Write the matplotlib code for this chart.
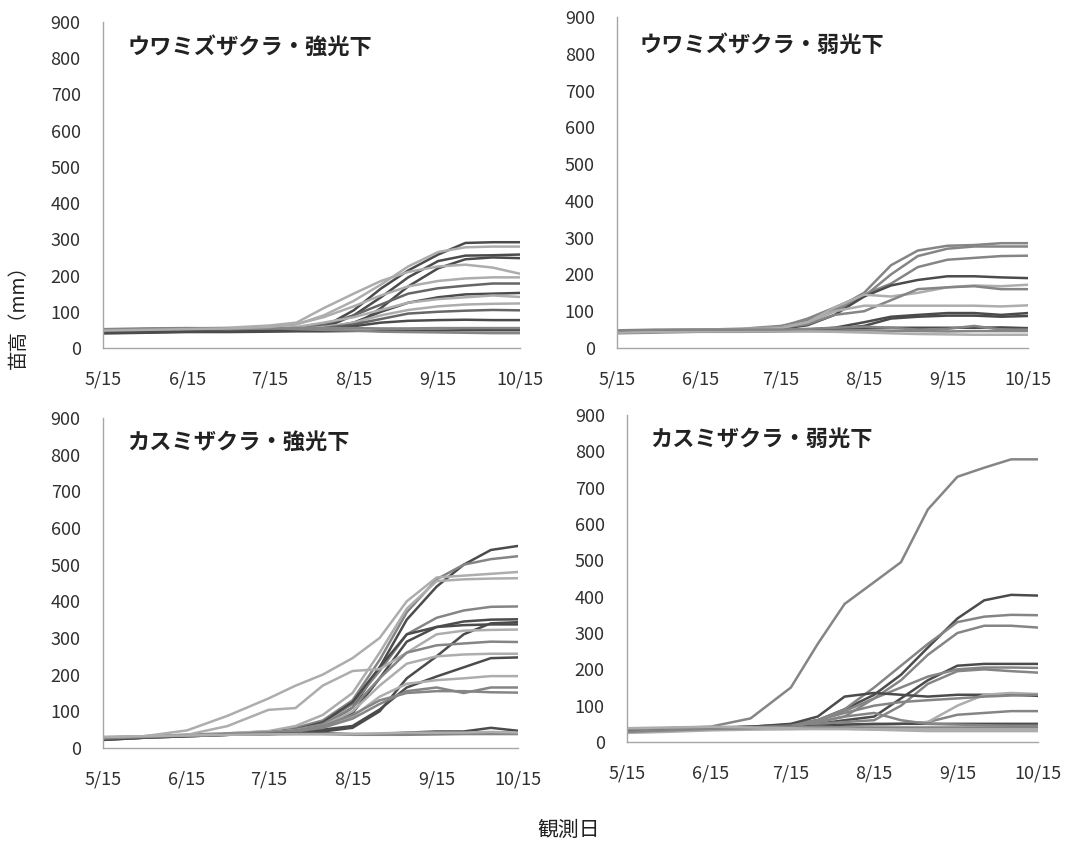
import numpy as np
import pandas as pd
import matplotlib
matplotlib.use('Agg')
import matplotlib.pyplot as plt

plt.rcParams['font.family'] = ['Noto Sans CJK JP', 'DejaVu Sans']

# observation dates (sampled from the chart)
obs_dates = ['5/15', '5/30', '6/15', '6/30', '7/15', '7/25', '8/4',
             '8/15', '8/25', '9/4', '9/15', '9/25', '10/5', '10/15']
tick_labels = ['5/15', '6/15', '7/15', '8/15', '9/15', '10/15']

titles = ['ウワミズザクラ・強光下', 'ウワミズザクラ・弱光下',
          'カスミザクラ・強光下', 'カスミザクラ・弱光下']

# seedling height (mm), one row per seedling
uwamizu_strong = [
    [45, 45, 48, 48, 50, 52, 58, 104, 164, 214, 258, 290, 292, 292],
    [42, 44, 46, 48, 50, 52, 55, 90, 140, 195, 240, 255, 256, 258],
    [44, 44, 46, 47, 48, 50, 52, 60, 110, 170, 220, 245, 250, 248],
    [50, 52, 54, 56, 62, 70, 110, 150, 185, 210, 225, 230, 222, 205],
    [48, 50, 52, 54, 58, 65, 90, 130, 175, 225, 265, 278, 280, 280],
    [45, 46, 48, 48, 50, 55, 65, 90, 120, 150, 165, 172, 178, 178],
    [42, 44, 45, 46, 48, 50, 55, 70, 100, 125, 140, 148, 150, 152],
    [46, 48, 50, 50, 52, 58, 70, 85, 105, 125, 135, 140, 145, 141],
    [44, 46, 48, 48, 50, 52, 58, 70, 90, 105, 115, 120, 122, 123],
    [42, 44, 45, 46, 48, 50, 55, 65, 80, 95, 100, 103, 105, 104],
    [44, 45, 46, 47, 48, 50, 52, 60, 70, 75, 77, 78, 77, 77],
    [40, 42, 44, 44, 45, 46, 46, 47, 48, 48, 48, 49, 49, 49],
    [52, 54, 55, 54, 55, 52, 50, 48, 45, 44, 43, 42, 41, 41],
    [50, 52, 53, 52, 54, 55, 55, 55, 54, 54, 55, 55, 55, 55],
    [48, 50, 52, 54, 58, 66, 85, 115, 145, 170, 185, 192, 195, 195],
]
uwamizu_weak = [
    [45, 48, 50, 52, 60, 75, 105, 150, 225, 265, 278, 280, 285, 285],
    [44, 46, 48, 50, 55, 70, 100, 140, 200, 250, 270, 276, 276, 276],
    [44, 46, 48, 50, 58, 80, 110, 145, 175, 220, 240, 245, 250, 251],
    [42, 44, 46, 48, 52, 62, 90, 140, 170, 185, 195, 195, 192, 190],
    [45, 48, 50, 52, 56, 70, 110, 145, 140, 150, 165, 170, 168, 172],
    [44, 46, 48, 50, 55, 65, 90, 100, 130, 160, 165, 168, 160, 160],
    [45, 46, 48, 50, 54, 70, 100, 115, 115, 115, 115, 115, 113, 116],
    [44, 45, 46, 47, 48, 50, 55, 70, 85, 90, 95, 95, 90, 95],
    [42, 44, 45, 46, 47, 48, 52, 60, 80, 85, 88, 88, 85, 87],
    [45, 46, 47, 48, 48, 50, 52, 54, 55, 55, 55, 55, 56, 54],
    [40, 42, 44, 44, 45, 46, 47, 48, 47, 46, 45, 46, 46, 46],
    [42, 44, 45, 45, 46, 45, 44, 42, 40, 38, 37, 36, 36, 36],
    [48, 50, 50, 50, 50, 52, 55, 58, 55, 50, 52, 60, 50, 50],
]
kasumi_strong = [
    [25, 30, 35, 38, 40, 45, 60, 110, 220, 350, 440, 500, 540, 551],
    [28, 32, 36, 40, 45, 55, 75, 130, 240, 370, 460, 500, 515, 523],
    [30, 32, 48, 88, 135, 170, 200, 245, 300, 400, 465, 470, 475, 480],
    [28, 32, 36, 40, 46, 60, 90, 150, 260, 380, 455, 460, 462, 463],
    [25, 30, 35, 38, 42, 50, 70, 120, 210, 310, 355, 375, 385, 386],
    [22, 28, 34, 38, 40, 45, 55, 95, 190, 290, 330, 345, 350, 351],
    [24, 30, 34, 36, 38, 40, 45, 55, 100, 190, 250, 310, 340, 343],
    [26, 30, 34, 38, 42, 50, 70, 125, 220, 310, 330, 335, 337, 337],
    [28, 32, 36, 60, 104, 109, 170, 210, 215, 260, 310, 320, 322, 323],
    [25, 30, 34, 38, 42, 50, 65, 110, 190, 260, 280, 285, 290, 289],
    [26, 30, 34, 38, 42, 48, 60, 100, 170, 230, 250, 255, 257, 257],
    [24, 28, 32, 36, 38, 42, 50, 60, 105, 165, 195, 220, 245, 247],
    [26, 30, 34, 38, 42, 48, 58, 85, 140, 175, 185, 190, 196, 196],
    [24, 28, 32, 36, 40, 45, 55, 80, 120, 155, 165, 150, 165, 165],
    [25, 30, 34, 38, 42, 48, 60, 90, 130, 150, 155, 155, 152, 151],
    [22, 28, 32, 36, 38, 40, 40, 38, 38, 42, 45, 45, 55, 47],
    [26, 30, 34, 36, 38, 38, 38, 36, 36, 36, 37, 38, 38, 38],
    [30, 32, 34, 36, 37, 38, 38, 38, 40, 42, 42, 42, 44, 42],
]
kasumi_weak = [
    [35, 38, 42, 65, 150, 270, 380, 440, 495, 640, 730, 755, 778, 778],
    [30, 35, 38, 40, 45, 60, 90, 130, 185, 260, 340, 390, 405, 403],
    [32, 36, 40, 42, 48, 60, 90, 150, 210, 270, 330, 345, 350, 349],
    [30, 34, 38, 42, 48, 60, 85, 120, 170, 240, 300, 320, 320, 315],
    [30, 34, 38, 40, 45, 50, 60, 70, 120, 170, 210, 215, 215, 215],
    [32, 36, 40, 42, 46, 55, 70, 120, 150, 180, 200, 205, 205, 204],
    [30, 34, 38, 42, 45, 50, 55, 60, 100, 160, 195, 200, 195, 191],
    [30, 34, 38, 42, 50, 70, 125, 135, 130, 125, 130, 130, 130, 127],
    [30, 34, 38, 40, 42, 44, 46, 48, 50, 55, 75, 80, 85, 85],
    [32, 36, 38, 40, 42, 44, 46, 48, 50, 55, 100, 130, 135, 132],
    [30, 34, 38, 40, 45, 60, 80, 100, 110, 115, 120, 125, 128, 130],
    [30, 34, 38, 40, 42, 44, 48, 50, 50, 50, 50, 50, 50, 50],
    [35, 38, 40, 40, 40, 42, 40, 40, 40, 40, 40, 40, 40, 40],
    [25, 28, 32, 34, 35, 36, 36, 34, 32, 30, 30, 30, 30, 30],
    [28, 32, 36, 38, 42, 55, 70, 80, 60, 50, 48, 46, 45, 45],
    [38, 40, 42, 40, 38, 36, 36, 35, 34, 34, 35, 35, 35, 35],
]

panels = [uwamizu_strong, uwamizu_weak, kasumi_strong, kasumi_weak]

# grey shade of each line: d=dark, m=medium, g=grey, l=light
shade_codes = ['dddllmdllmddggl', 'gggdlgldddglg',
               'dgllgdddlgldlggdgl', 'gdggdggdglgdglgl']
shade_map = {'d': '#4b4b4b', 'm': '#666666', 'g': '#858585', 'l': '#adadad'}

# axes rectangles
rects = [[0.0964, 0.5872, 0.3904, 0.3867],
         [0.5777, 0.5872, 0.3848, 0.3926],
         [0.0964, 0.1127, 0.3886, 0.3915],
         [0.5871, 0.1198, 0.3848, 0.3879]]
title_pos = [(0.06, 0.923), (0.056, 0.915), (0.058, 0.927), (0.056, 0.924)]

start = pd.to_datetime('2015/5/15')
x = np.array([(pd.to_datetime('2015/' + d) - start).days for d in obs_dates])
xt = np.array([(pd.to_datetime('2015/' + d) - start).days for d in tick_labels])

fig = plt.figure(figsize=(10.68, 8.43), dpi=100)
for i, data in enumerate(panels):
    ax = fig.add_axes(rects[i])
    for j, row in enumerate(data):
        ax.plot(x, row, color=shade_map[shade_codes[i][j]], lw=1.8)
    ax.set_xlim(xt[0], xt[-1])
    ax.set_ylim(0, 900)
    ax.set_yticks(range(0, 901, 100))
    ax.set_xticks(xt)
    ax.set_xticklabels(tick_labels)
    for s in ['top', 'right']:
        ax.spines[s].set_visible(False)
    for s in ['left', 'bottom']:
        ax.spines[s].set_color('#a6a6a6')
        ax.spines[s].set_linewidth(1)
    ax.tick_params(axis='y', length=0, pad=16, labelsize=13, labelcolor='#303030')
    ax.tick_params(axis='x', length=0, pad=16, labelsize=13, labelcolor='#303030')
    ax.text(title_pos[i][0], title_pos[i][1], titles[i], transform=ax.transAxes,
            ha='left', va='center', fontsize=16, fontweight='bold', color='#222222')

fig.text(18 / 1068, 1 - 312 / 843, '苗高（mm）', rotation=90, ha='center', va='center',
         fontsize=14, color='#222222')
fig.text(569 / 1068, 1 - 830 / 843, '観測日', ha='center', va='center',
         fontsize=15, color='#222222')

fig.savefig('out.png', dpi=100)
